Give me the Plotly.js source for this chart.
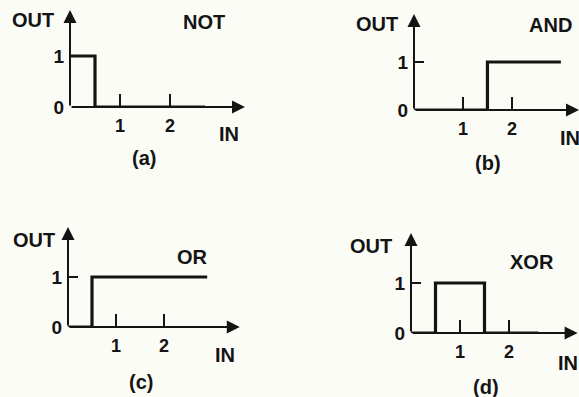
<!DOCTYPE html>
<html>
<head>
<meta charset="utf-8">
<script src="https://cdn.plot.ly/plotly-3.0.1.min.js"></script>
<style>html,body{margin:0;padding:0;background:#fcfcf6;}</style>
</head>
<body>
<div id="chart" style="width:579px;height:397px;"></div>
<script>
// ---- data ----
const gateNames = ["NOT", "AND", "OR", "XOR"];
const panelLabels = ["(a)", "(b)", "(c)", "(d)"];
const notX = [0, 0.5, 0.5, 2.7];
const notY = [1, 1, 0, 0];
const andX = [0, 1.5, 1.5, 3.0];
const andY = [0, 0, 1, 1];
const orX = [0, 0.5, 0.5, 2.9];
const orY = [0, 0, 1, 1];
const xorX = [0, 0.5, 0.5, 1.5, 1.5, 2.6];
const xorY = [0, 0, 1, 1, 0, 0];
const xTickVals = [1, 2];
const xTickText = ["1", "2"];
const yTickVals = [0, 1];
const yTickText = ["0", "1"];
const axisTitleY = "OUT";
const axisTitleX = "IN";

// ---- layout helpers (pixel geometry) ----
const W = 579, H = 397;
const fx = p => p / W;
const fy = p => 1 - p / H;
const ink = "#141414";
const FONT = "Liberation Sans, Arial, sans-serif";

// panel geometry: origin px, units px, ranges
const panels = [
  {ox: 70, oy: 107, ux: 50, uy: 51, xmax: 3.5, ymax: 1.9},
  {ox: 414, oy: 110, ux: 49, uy: 48, xmax: 3.37, ymax: 2.0},
  {ox: 68, oy: 327, ux: 48, uy: 50, xmax: 3.58, ymax: 2.0},
  {ox: 411, oy: 333, ux: 49, uy: 50, xmax: 3.4, ymax: 2.0}
];
const series = [[notX, notY], [andX, andY], [orX, orY], [xorX, xorY]];
const showYTick = [false, true, true, true];

// text positions (px centers)
const outPos = [[33, 20], [377, 24], [34, 240], [371, 246]];
const gatePos = [[204, 22], [550, 25], [192, 257], [532, 262]];
const inPos = [[229, 134], [570, 138], [225, 355], [568, 363]];
const labPos = [[144, 158], [488, 163], [141, 382], [486, 387]];

const data = [];
const layout = {
  width: W, height: H, autosize: false,
  margin: {l: 0, r: 0, t: 0, b: 0},
  paper_bgcolor: "#fcfcf6", plot_bgcolor: "rgba(0,0,0,0)",
  showlegend: false,
  annotations: []
};

panels.forEach((p, i) => {
  const n = i === 0 ? "" : String(i + 1);
  const xa = "xaxis" + n, ya = "yaxis" + n;
  const xr = "x" + n, yr = "y" + n;
  layout[xa] = {
    domain: [fx(p.ox), Math.min(1, fx(p.ox + p.xmax * p.ux))],
    range: [0, p.xmax], anchor: yr,
    showgrid: false, zeroline: false, showline: false,
    tickmode: "array", tickvals: xTickVals, ticktext: xTickText,
    ticks: "inside", ticklen: 13, tickwidth: 1.6, tickcolor: ink,
    ticklabelstandoff: 6,
    tickfont: {family: FONT, size: 18, color: ink, weight: "bold"},
    fixedrange: true
  };
  layout[ya] = {
    domain: [fy(p.oy), fy(p.oy - p.ymax * p.uy)],
    range: [0, p.ymax], anchor: xr,
    showgrid: false, zeroline: false, showline: false,
    tickmode: "array", tickvals: yTickVals, ticktext: yTickText,
    ticks: showYTick[i] ? "inside" : "", ticklen: 10, tickwidth: 1.6, tickcolor: ink,
    ticklabelstandoff: 5,
    tickfont: {family: FONT, size: 19, color: ink, weight: "bold"},
    fixedrange: true
  };
  // axes as arrows (data coords)
  layout.annotations.push({
    xref: xr, yref: yr, axref: xr, ayref: yr,
    x: p.xmax, y: 0, ax: 0, ay: 0,
    showarrow: true, arrowhead: 2, arrowsize: 1.3, arrowwidth: 2, arrowcolor: ink, text: ""
  });
  layout.annotations.push({
    xref: xr, yref: yr, axref: xr, ayref: yr,
    x: 0, y: p.ymax, ax: 0, ay: 0,
    showarrow: true, arrowhead: 2, arrowsize: 1.3, arrowwidth: 2, arrowcolor: ink, text: ""
  });
  data.push({
    type: "scatter", mode: "lines",
    x: series[i][0], y: series[i][1],
    xaxis: xr, yaxis: yr, cliponaxis: false,
    line: {color: ink, width: 3.2, shape: "linear"},
    hoverinfo: "skip"
  });
  const txt = (s, pos, size) => ({
    xref: "paper", yref: "paper", x: fx(pos[0]), y: fy(pos[1]),
    xanchor: "center", yanchor: "middle", showarrow: false, text: s,
    font: {family: FONT, size: size, color: ink, weight: "bold"}
  });
  layout.annotations.push(txt(axisTitleY, outPos[i], 20));
  layout.annotations.push(txt(gateNames[i], gatePos[i], 20));
  layout.annotations.push(txt(axisTitleX, inPos[i], 20));
  layout.annotations.push(txt(panelLabels[i], labPos[i], 20));
});

Plotly.newPlot("chart", data, layout, {displayModeBar: false, staticPlot: true});
</script>
</body>
</html>
